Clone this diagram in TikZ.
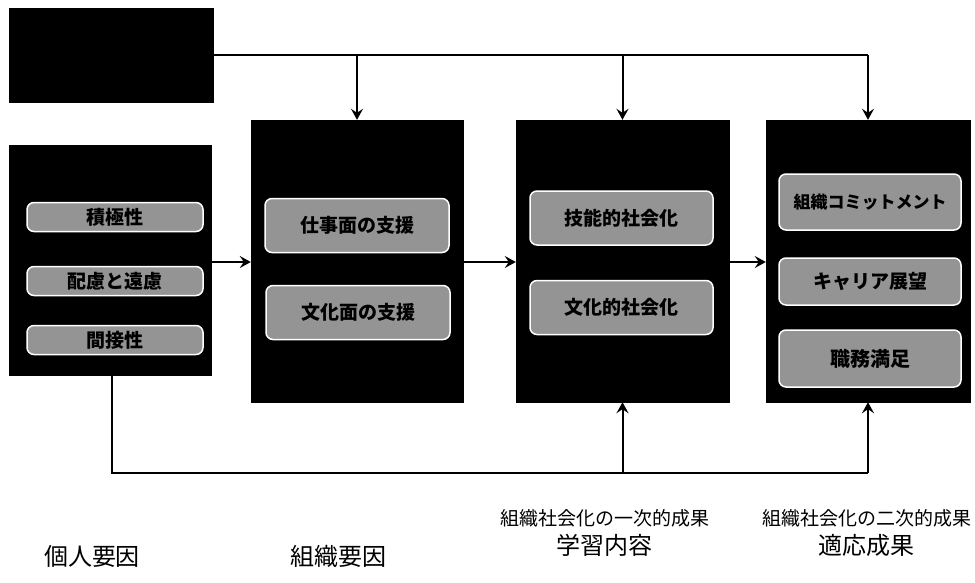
\documentclass[tikz,border=0pt]{standalone}
\usepackage{fontspec}
\setmainfont{Noto Sans CJK JP}
\usetikzlibrary{arrows.meta, positioning, calc}

\begin{document}
\begin{tikzpicture}[x=1pt, y=-1pt,
	% Define styles
	darkbox/.style={rectangle, fill=black, draw=black, inner sep=0pt},
	pill/.style={rectangle, rounded corners=7pt, draw=white, line width=1.5pt, fill=black!42, inner sep=0pt, align=center, font=\bfseries\fontsize{19}{22}\selectfont},
	flow/.style={-{Stealth[length=11pt, width=12pt, inset=4pt]}, line width=2pt, draw=black},
	line/.style={line width=2pt, draw=black},
	caption/.style={font=\fontsize{24}{28}\selectfont},
	subcaption/.style={font=\fontsize{19}{22}\selectfont}
	]
	\useasboundingbox (0,0) rectangle (975,582);

	% Black boxes
	\node[darkbox, minimum width=204pt, minimum height=94pt] (top) at (111,55) {};
	\node[darkbox, minimum width=202pt, minimum height=230pt] (indiv) at (110,260) {};
	\node[darkbox, minimum width=212pt, minimum height=282pt] (org) at (357,261) {};
	\node[darkbox, minimum width=213pt, minimum height=282pt] (learn) at (622.5,261) {};
	\node[darkbox, minimum width=204pt, minimum height=282pt] (adapt) at (868,261) {};

	% Items of the individual box
	\node[pill, minimum width=176pt, minimum height=29pt] (active) at (115,217) {積極性};
	\node[pill, minimum width=176pt, minimum height=29pt] (regard) at (115,281) {配慮と遠慮};
	\node[pill, minimum width=176pt, minimum height=29pt] (indirect) at (115,340) {間接性};

	% Items of the organisation box
	\node[pill, minimum width=184pt, minimum height=54pt] (worksup) at (357,225.5) {仕事面の支援};
	\node[pill, minimum width=184pt, minimum height=54pt] (cultsup) at (358,312.5) {文化面の支援};

	% Items of the learning box
	\node[pill, minimum width=183pt, minimum height=54pt] (skill) at (621.5,218) {技能的社会化};
	\node[pill, minimum width=183pt, minimum height=54pt] (culture) at (621.5,307.5) {文化的社会化};

	% Items of the adaptation box
	\node[pill, minimum width=182pt, minimum height=56pt, font=\bfseries\fontsize{17}{20}\selectfont] (commit) at (870,202) {組織コミットメント};
	\node[pill, minimum width=182pt, minimum height=47pt] (career) at (870,281.5) {キャリア展望};
	\node[pill, minimum width=182pt, minimum height=57pt, font=\bfseries\fontsize{20}{22}\selectfont] (satisf) at (870,358.5) {職務満足};

	% Arrows from the top box
	\draw[line] (top.east) -- (top.east -| adapt.north);
	\draw[flow] (top.east -| org.north) -- (org.north);
	\draw[flow] (top.east -| learn.north) -- (learn.north);
	\draw[flow] (top.east -| adapt.north) -- (adapt.north);

	% Main flow
	\draw[flow] (indiv.east |- 0,262) -- (org.west |- 0,262);
	\draw[flow] (org.east |- 0,262) -- (learn.west |- 0,262);
	\draw[flow] (learn.east |- 0,262) -- (adapt.west |- 0,262);

	% Feedback from the individual box
	\coordinate (fb) at (112,473);
	\draw[line] (fb |- indiv.south) -- (fb) -- (fb -| adapt.south);
	\draw[flow] (fb -| learn.south) -- (learn.south);
	\draw[flow] (fb -| adapt.south) -- (adapt.south);

	% Captions
	\node[caption] (capindiv) at (92,556) {個人要因};
	\node[caption] (caporg) at (338,556) {組織要因};
	\node[subcaption] (sublearn) at (605,518) {組織社会化の一次的成果};
	\node[caption] (caplearn) at (604,545) {学習内容};
	\node[subcaption] (subadapt) at (867,518) {組織社会化の二次的成果};
	\node[caption] (capadapt) at (866,545) {適応成果};
\end{tikzpicture}
\end{document}
